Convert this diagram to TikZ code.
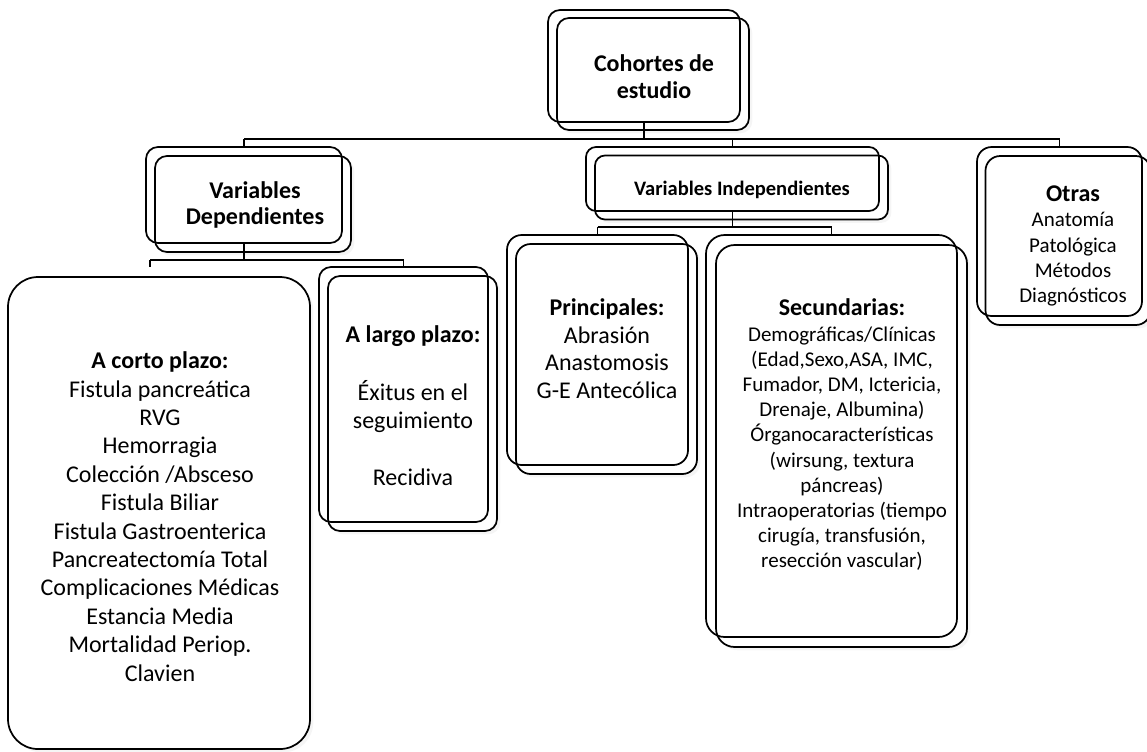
\documentclass[tikz,border=0pt]{standalone}
\usepackage{fontspec}
\setmainfont{Carlito}
\usetikzlibrary{shadows}
\tikzset{
  frontbox/.style={draw, line width=1.3pt, rounded corners=#1, fill=white, inner sep=0pt,
    drop shadow={opacity=0.08, shadow xshift=2.5pt, shadow yshift=-2.5pt}},
  frontbox/.default=9pt,
  backbox/.style={draw, line width=1.3pt, rounded corners=#1, inner sep=0pt},
  backbox/.default=9pt,
  conn/.style={line width=1.1pt},
  txt/.style={align=center, inner sep=0pt},
  big/.style={font=\fontsize{18}{21.3}\selectfont},
  mid/.style={font=\fontsize{15.75}{18.9}\selectfont},
}
\newcommand{\hd}[1]{{\fontsize{18}{21}\selectfont\bfseries #1}}
\begin{document}
\begin{tikzpicture}[x=0.75pt, y=-0.75pt]
\useasboundingbox (0,0) rectangle (1147,751);

% Cohortes de estudio
\node[frontbox, minimum width=144pt, minimum height=84pt] (cohF) at (653,74) {};
\node[backbox, minimum width=144pt, minimum height=84pt] (cohB) at (644,66) {};
\node[txt, font=\fontsize{18}{20.3}\selectfont\bfseries] (cohT) at (654,77) {Cohortes de\\estudio};

% Variables Dependientes
\node[frontbox, minimum width=147pt, minimum height=72pt] (vdepF) at (253,204) {};
\node[backbox, minimum width=147pt, minimum height=72pt] (vdepB) at (244,195) {};
\node[txt, font=\fontsize{18}{19.5}\selectfont\bfseries] (vdepT) at (255,205) {Variables\\Dependientes};

% Variables Independientes
\node[frontbox=7.5pt, minimum width=219.75pt, minimum height=48pt] (vindF) at (741.5,187.5) {};
\node[backbox=7.5pt, minimum width=219.75pt, minimum height=48pt] (vindB) at (732.5,179) {};
\node[txt, font=\fontsize{15.4}{18}\selectfont\bfseries] (vindT) at (742,190) {Variables Independientes};

% Otras
\node[frontbox=11pt, minimum width=123.75pt, minimum height=126.75pt] (otrasF) at (1068,240.5) {};
\node[backbox=11pt, minimum width=123.75pt, minimum height=126.75pt] (otrasB) at (1059.5,231.5) {};
\node[txt, mid] (otrasT) at (1073,246) {\hd{Otras}\\Anatomía\\Patológica\\Métodos\\Diagnósticos};

% A corto plazo
\node[frontbox=22.5pt, minimum width=226.5pt, minimum height=354pt] (corto) at (159,513) {};
\node[txt, big] (cortoT) at (160,516.5) {\textbf{A corto plazo:}\\Fistula pancreática\\RVG\\Hemorragia\\Colección /Absceso\\Fistula Biliar\\Fistula Gastroenterica\\Pancreatectomía Total\\Complicaciones Médicas\\Estancia Media\\Mortalidad Periop.\\Clavien};

% A largo plazo
\node[frontbox, minimum width=126.75pt, minimum height=191.25pt] (largoF) at (412.5,403.5) {};
\node[backbox, minimum width=126.75pt, minimum height=191.25pt] (largoB) at (403.5,394.5) {};
\node[txt, font=\fontsize{18}{21.15}\selectfont] (largoT) at (413,405.5) {\textbf{A largo plazo:}\\\strut\\Éxitus en el\\seguimiento\\\strut\\Recidiva};

% Principales
\node[frontbox=11pt, minimum width=135.75pt, minimum height=172.5pt] (princF) at (606.5,359) {};
\node[backbox=11pt, minimum width=135.75pt, minimum height=172.5pt] (princB) at (597.5,350) {};
\node[txt, font=\fontsize{18}{20.75}\selectfont] (princT) at (607,348.5) {\textbf{Principales:}\\Abrasión\\Anastomosis\\G-E Antecólica};

% Secundarias
\node[frontbox=14pt, minimum width=188.25pt, minimum height=301.5pt] (secuF) at (841.5,446) {};
\node[backbox=14pt, minimum width=188.25pt, minimum height=301.5pt] (secuB) at (831.5,436) {};
\node[txt, mid] (secuT) at (842,435) {\hd{Secundarias:}\\Demográficas/Clínicas\\(Edad,Sexo,ASA, IMC,\\Fumador, DM, Ictericia,\\Drenaje, Albumina)\\Órganocaracterísticas\\(wirsung, textura\\páncreas)\\Intraoperatorias (tiempo\\cirugía, transfusión,\\resección vascular)};

% connectors
\coordinate (hL) at (244,139);
\coordinate (hR) at (1059.5,139);
\draw[conn] (cohB.south) -- (cohB.south |- hL);
\draw[conn] (hL) -- (hR);
\draw[conn] (hL) -- (vdepB.north);
\draw[conn] (vindB.north |- hL) -- (vindB.north);
\draw[conn] (hR) -- (otrasB.north);

\coordinate (dL) at (150,260);
\coordinate (dR) at (403.5,260);
\coordinate (cortoEnd) at (150,267);
\draw[conn] (vdepB.south) -- (vdepB.south |- dL);
\draw[conn] (dL) -- (dR);
\draw[conn] (dL) -- (cortoEnd);
\draw[conn] (dR) -- (largoB.north);

\coordinate (iL) at (597.5,227);
\coordinate (iR) at (831.5,227);
\draw[conn] (vindB.south) -- (vindB.south |- iL);
\draw[conn] (iL) -- (iR);
\draw[conn] (iL) -- (princB.north);
\draw[conn] (iR) -- (secuB.north);
\end{tikzpicture}
\end{document}
